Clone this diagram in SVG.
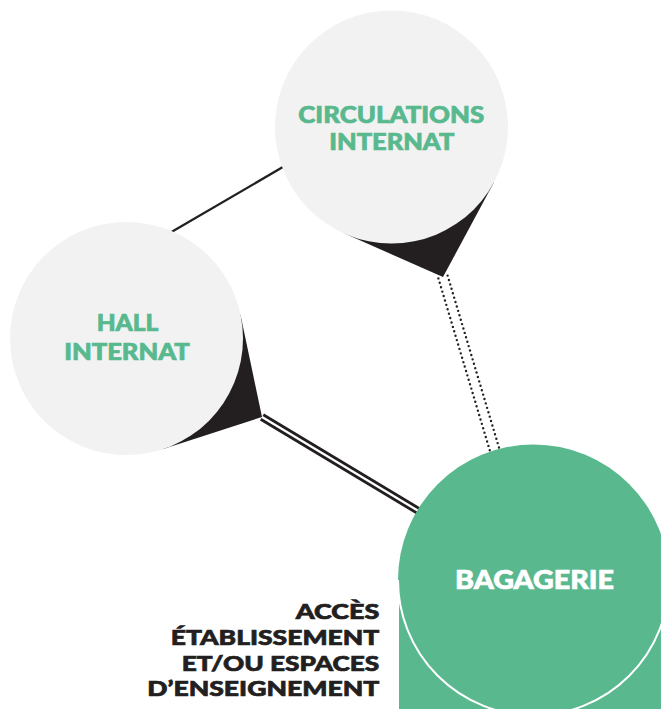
<svg xmlns="http://www.w3.org/2000/svg" width="661" height="709" viewBox="0 0 661 709">
  <style>
    .bubble { fill: #F2F2F2; }
    .pointer { fill: #231F20; }
    .lbl { font-family: Lato, "Liberation Sans", sans-serif; font-weight: 900; fill: #58B98F; stroke: #58B98F; stroke-width: 0.7; text-anchor: middle; }
    .lbl-w { font-family: Lato, "Liberation Sans", sans-serif; font-weight: 900; fill: #FFFFFF; stroke: #FFFFFF; stroke-width: 0.7; text-anchor: middle; }
    .lbl-k { font-family: Lato, "Liberation Sans", sans-serif; font-weight: 900; fill: #231F20; stroke: #231F20; stroke-width: 0.7; text-anchor: end; }
    .solid { stroke: #231F20; stroke-width: 2.3; fill: none; }
    .dbl { stroke: #231F20; stroke-width: 2.8; fill: none; }
    .dots { stroke: #231F20; stroke-width: 2.4; stroke-linecap: round; stroke-dasharray: 0 4.6; fill: none; }
    .green { fill: #5AB88F; }
  </style>
  <rect width="661" height="709" fill="#FFFFFF"/>

  <g id="connectors">
    <line class="solid" x1="150" y1="244.6" x2="300" y2="157.1"/>
    <line class="dbl" x1="263.3" y1="414.8" x2="451.9" y2="528.1"/>
    <line class="dbl" x1="260.7" y1="419.2" x2="449.3" y2="532.5"/>
    <line class="dots" x1="447.6" y1="275.6" x2="502" y2="457.7"/>
    <line class="dots" x1="438.4" y1="278.4" x2="492.8" y2="460.5"/>
  </g>

  <g id="hall-internat">
    <polygon class="pointer" points="240.5,314.7 262,417 162.5,449.3 126.5,338.5"/>
    <circle class="bubble" cx="126.5" cy="338.5" r="116.5"/>
    <text class="lbl" font-size="23" x="127.5" y="331" textLength="61.7" lengthAdjust="spacingAndGlyphs">HALL</text>
    <text class="lbl" font-size="23" x="127" y="360" textLength="125.7" lengthAdjust="spacingAndGlyphs">INTERNAT</text>
  </g>

  <g id="circulations-internat">
    <polygon class="pointer" points="344.6,233.6 443,277 494,182.3 391.5,127"/>
    <circle class="bubble" cx="391.5" cy="127" r="116.5"/>
    <text class="lbl" font-size="23" x="391.3" y="122.7" textLength="186" lengthAdjust="spacingAndGlyphs">CIRCULATIONS</text>
    <text class="lbl" font-size="23" x="391.8" y="150" textLength="125" lengthAdjust="spacingAndGlyphs">INTERNAT</text>
  </g>

  <g id="bagagerie">
    <rect class="green" x="399" y="580" width="262" height="129"/>
    <circle class="green" cx="533.5" cy="580" r="135.5"/>
    <path d="M398,580 A135.5,135.5 0 0 0 669,580" fill="none" stroke="#FFFFFF" stroke-width="2"/>
    <text class="lbl-w" font-size="26.5" x="534.5" y="589.3" textLength="159" lengthAdjust="spacingAndGlyphs">BAGAGERIE</text>
  </g>

  <g id="acces-etablissement">
    <text class="lbl-k" font-size="21.5" x="379.3" y="619.3" textLength="83.6" lengthAdjust="spacingAndGlyphs">ACCÈS</text>
    <text class="lbl-k" font-size="21.5" x="379.3" y="645" textLength="208.6" lengthAdjust="spacingAndGlyphs">ÉTABLISSEMENT</text>
    <text class="lbl-k" font-size="21.5" x="379.3" y="670.7" textLength="197.6" lengthAdjust="spacingAndGlyphs">ET/OU ESPACES</text>
    <text class="lbl-k" font-size="21.5" x="379.3" y="695.5" textLength="232" lengthAdjust="spacingAndGlyphs">D’ENSEIGNEMENT</text>
  </g>
</svg>
